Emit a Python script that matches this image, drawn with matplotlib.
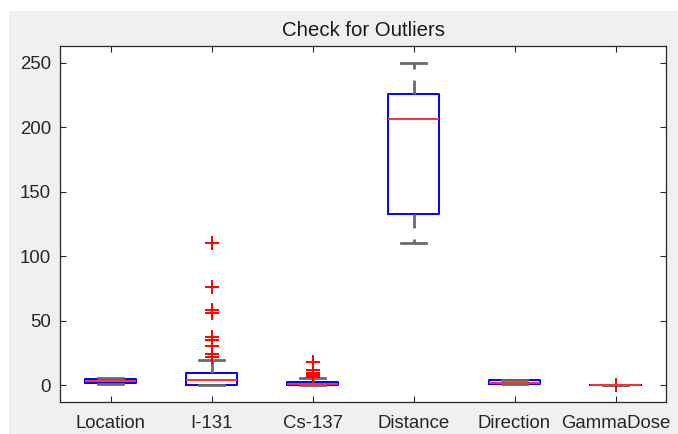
import matplotlib
matplotlib.use("Agg")
import matplotlib.pyplot as plt
from matplotlib.patches import Rectangle

plt.rcParams["font.family"] = ["Liberation Sans", "DejaVu Sans"]

# box statistics
etiquetas = ["Location", "I-131", "Cs-137", "Distance", "Direction", "GammaDose"]
q1 = [2.0, 0.5, 0.2, 132.7, 1.0, 0.0]
mediana = [3.5, 4.1, 0.8, 206.3, 2.0, 0.0]
q3 = [5.0, 9.8, 2.6, 225.6, 4.0, 0.0]
bigote_inf = [1.0, 0.0, 0.0, 110.0, 1.0, 0.0]
bigote_sup = [6.0, 19.5, 5.4, 250.0, 4.3, 0.0]
atipicos = [
    [],
    [110.0, 76.5, 58.2, 55.9, 37.3, 35.2, 30.6, 24.1, 21.8],
    [18.0, 12.3, 9.3, 8.5, 7.8, 7.2, 6.8],
    [],
    [],
    [0.2],
]

stats = []
for i, nombre in enumerate(etiquetas):
    stats.append({
        "label": nombre,
        "q1": q1[i], "med": mediana[i], "q3": q3[i],
        "whislo": bigote_inf[i], "whishi": bigote_sup[i],
        "fliers": atipicos[i],
    })

fig = plt.figure(figsize=(6.78, 4.34), dpi=100, facecolor="white")
fig.patches.append(Rectangle((9 / 678, 0), 1, (434 - 11) / 434,
                             transform=fig.transFigure, facecolor="#f0f0f0",
                             edgecolor="none", zorder=-10))
ax = fig.add_axes([60 / 678, 32 / 434, 606 / 678, 356 / 434])
ax.set_facecolor("white")

ax.bxp(stats, positions=range(1, 7), widths=0.5,
       boxprops=dict(color="#0000ff", linewidth=1.4),
       medianprops=dict(color="#ff3030", linewidth=1.4),
       whiskerprops=dict(color="#6a6a6a", linewidth=2, linestyle=(0, (5, 4))),
       capprops=dict(color="#6a6a6a", linewidth=2),
       flierprops=dict(marker="+", markeredgecolor="#ff0000", markersize=10,
                       markeredgewidth=1.4, linestyle="none"),
       capwidths=0.25)

ax.set_xlim(0.5, 6.5)
ax.set_ylim(-12.8, 262.8)
ax.set_yticks([0, 50, 100, 150, 200, 250])
ax.set_xticks(range(1, 7))
ax.set_xticklabels(etiquetas)
ax.tick_params(direction="in", top=True, right=True, length=4,
               labelsize=13.4, colors="#262626")
ax.tick_params(axis="x", pad=9)
ax.tick_params(axis="y", pad=6.5)
for s in ax.spines.values():
    s.set_color("#262626")
    s.set_linewidth(0.9)

ax.set_title("Check for Outliers", fontsize=14.7, color="#1a1a1a", pad=7)

fig.savefig("out.png", dpi=100, facecolor=fig.get_facecolor())
